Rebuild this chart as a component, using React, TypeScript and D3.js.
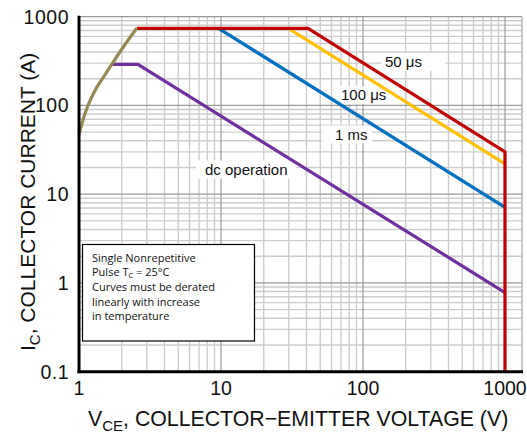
import { useEffect, useRef } from 'react';
import * as d3 from 'd3';

const width = 527, height = 433;
const plot = { left: 79, right: 522, top: 16.7, bottom: 371.7 };

// axis ticks
const xTicks = [1, 10, 100, 1000];
const yTicks = [0.1, 1, 10, 100, 1000];
const xTickLabels = ['1', '10', '100', '1000'];
const yTickLabels = ['0.1', '1', '10', '100', '1000'];

// safe operating area curves (VCE in V, IC in A)
const limitV = [1, 1.1, 1.2, 1.35, 1.5, 1.7, 2.0, 2.55];
const limitI = [47, 80, 115, 165, 213, 290, 430, 740];
const us50V = [2.55, 41, 1000, 1000];
const us50I = [740, 740, 30, 0.1];
const us100V = [29.8, 1000];
const us100I = [740, 22];
const ms1V = [9.6, 1000];
const ms1I = [740, 7.1];
const dcV = [1.7, 2.6, 1000];
const dcI = [290, 290, 0.78];

const noteLines = ['Single Nonrepetitive', 'Pulse T_C = 25°C', 'Curves must be derated', 'linearly with increase', 'in temperature'];

const FONT = '"Liberation Sans", Arial, Helvetica, sans-serif';

function drawChart(el: SVGSVGElement) {
    const svg = d3.select(el);
    svg.selectAll('*').remove();

    const x = d3.scaleLog().domain([1, Math.pow(10, (plot.right - plot.left) / 142)]).range([plot.left, plot.right]);
    const y = d3.scaleLog().domain([0.1, 1000]).range([plot.bottom, plot.top]);

    /* Grid */
    const minorX: number[] = [], minorY: number[] = [];
    [1, 10, 100].forEach(d => { for (let k = 2; k <= 9; k++) minorX.push(d * k); });
    [0.1, 1, 10, 100].forEach(d => { for (let k = 2; k <= 9; k++) minorY.push(d * k); });

    const grid = svg.append('g');
    grid.selectAll('line.mx').data(minorX).join('line')
        .attr('x1', d => x(d)).attr('x2', d => x(d))
        .attr('y1', plot.top).attr('y2', plot.bottom)
        .attr('stroke', '#cdcdcd').attr('stroke-width', 1.4);
    grid.selectAll('line.my').data(minorY).join('line')
        .attr('y1', d => y(d)).attr('y2', d => y(d))
        .attr('x1', plot.left).attr('x2', plot.right)
        .attr('stroke', '#cdcdcd').attr('stroke-width', 1.4);
    grid.selectAll('line.dx').data(xTicks.slice(1)).join('line')
        .attr('x1', d => x(d)).attr('x2', d => x(d))
        .attr('y1', plot.top).attr('y2', plot.bottom)
        .attr('stroke', '#9a9a9a').attr('stroke-width', 1.2);
    grid.selectAll('line.dy').data(yTicks.slice(1)).join('line')
        .attr('y1', d => y(d)).attr('y2', d => y(d))
        .attr('x1', plot.left).attr('x2', plot.right)
        .attr('stroke', '#9a9a9a').attr('stroke-width', 1.2);
    // right frame
    grid.append('line')
        .attr('x1', plot.right).attr('x2', plot.right)
        .attr('y1', plot.top).attr('y2', plot.bottom)
        .attr('stroke', '#b0b0b0').attr('stroke-width', 1.4);

    /* Note box */
    const note = svg.append('g');
    note.append('rect')
        .attr('x', 82.5).attr('y', 244.5).attr('width', 172).attr('height', 96.5)
        .attr('fill', 'white').attr('stroke', '#000').attr('stroke-width', 1.2);
    const nt = note.append('g')
        .style('font-family', '"Open Sans", "Noto Sans", sans-serif')
        .style('font-size', '11px')
        .attr('fill', '#111');
    noteLines.forEach((line, i) => {
        const t = nt.append('text').attr('x', 92).attr('y', 261.5 + i * 14.7);
        if (line.includes('T_C')) {
            const [a, b] = line.split('T_C');
            t.append('tspan').text(a + 'T');
            t.append('tspan').attr('dy', 2).style('font-size', '7.5px').text('C');
            t.append('tspan').attr('dy', -2).text(b);
        } else {
            t.text(line);
        }
    });

    /* Label backgrounds */
    const labels = [
        { text: '50 μs', x: 385, y: 67, bx: 381, bw: 64 },
        { text: '100 μs', x: 341, y: 100, bx: 336, bw: 54 },
        { text: '1 ms', x: 335, y: 139.5, bx: 322, bw: 50 },
        { text: 'dc operation', x: 205, y: 174.5, bx: 196, bw: 100 },
    ];
    svg.append('g').selectAll('rect').data(labels).join('rect')
        .attr('x', d => d.bx).attr('y', d => d.y - 14).attr('width', d => d.bw).attr('height', 18)
        .attr('fill', 'white');

    /* Curves */
    const series = [
        { v: dcV, i: dcI, color: '#7030a0', curve: d3.curveLinear },
        { v: ms1V, i: ms1I, color: '#0070c0', curve: d3.curveLinear },
        { v: us100V, i: us100I, color: '#ffc000', curve: d3.curveLinear },
        { v: us50V, i: us50I, color: '#c00000', curve: d3.curveLinear },
        { v: limitV, i: limitI, color: '#948a54', curve: d3.curveCatmullRom.alpha(0.5) },
    ];
    series.forEach(s => {
        const line = d3.line<number>()
            .x(k => x(s.v[k]))
            .y(k => y(s.i[k]))
            .curve(s.curve);
        svg.append('path')
            .attr('d', line(d3.range(s.v.length)))
            .attr('fill', 'none')
            .attr('stroke', s.color)
            .attr('stroke-width', 3.2)
            .attr('stroke-linejoin', 'miter');
    });

    /* Curve labels */
    svg.append('g').selectAll('text').data(labels).join('text')
        .attr('x', d => d.x).attr('y', d => d.y)
        .style('font-family', FONT).style('font-size', '15px')
        .attr('fill', '#111')
        .text(d => d.text);

    /* Axes */
    svg.append('line')
        .attr('x1', plot.left).attr('x2', plot.left)
        .attr('y1', plot.top - 1).attr('y2', plot.bottom + 1.5)
        .attr('stroke', '#000').attr('stroke-width', 3);
    svg.append('line')
        .attr('x1', plot.left - 1.5).attr('x2', plot.right + 1)
        .attr('y1', plot.bottom).attr('y2', plot.bottom)
        .attr('stroke', '#000').attr('stroke-width', 3);

    const ticks = svg.append('g')
        .style('font-family', FONT).style('font-size', '19.5px')
        .attr('fill', '#111');
    ticks.selectAll('text.xt').data(xTicks).join('text')
        .attr('x', d => x(d)).attr('y', 395)
        .attr('text-anchor', 'middle')
        .text((d, k) => xTickLabels[k]);
    ticks.selectAll('text.yt').data(yTicks).join('text')
        .attr('x', 69).attr('y', d => y(d) + 7)
        .attr('text-anchor', 'end')
        .style('letter-spacing', '0.5px')
        .text((d, k) => yTickLabels[k]);

    /* Axis titles */
    const xt = svg.append('text')
        .attr('x', 88).attr('y', 426)
        .style('font-family', FONT).style('font-size', '21.3px')
        .attr('fill', '#111');
    xt.append('tspan').text('V');
    xt.append('tspan').attr('dy', 5).style('font-size', '15px').text('CE');
    xt.append('tspan').attr('dy', -5).text(', COLLECTOR\u2212EMITTER VOLTAGE (V)');

    const yt = svg.append('text')
        .attr('transform', 'translate(35,351) rotate(-90)')
        .style('font-family', FONT).style('font-size', '21px')
        .attr('fill', '#111');
    yt.append('tspan').text('I');
    yt.append('tspan').attr('dy', 5).style('font-size', '15px').text('C');
    yt.append('tspan').attr('dy', -5).text(', COLLECTOR CURRENT (A)');
}

export default function App() {
    const ref = useRef<SVGSVGElement>(null);
    useEffect(() => {
        if (ref.current) drawChart(ref.current);
    }, []);
    return (
        <svg ref={ref} width={width} height={height}
            style={{ position: 'absolute', left: 0, top: 0, background: 'white' }} />
    );
}
